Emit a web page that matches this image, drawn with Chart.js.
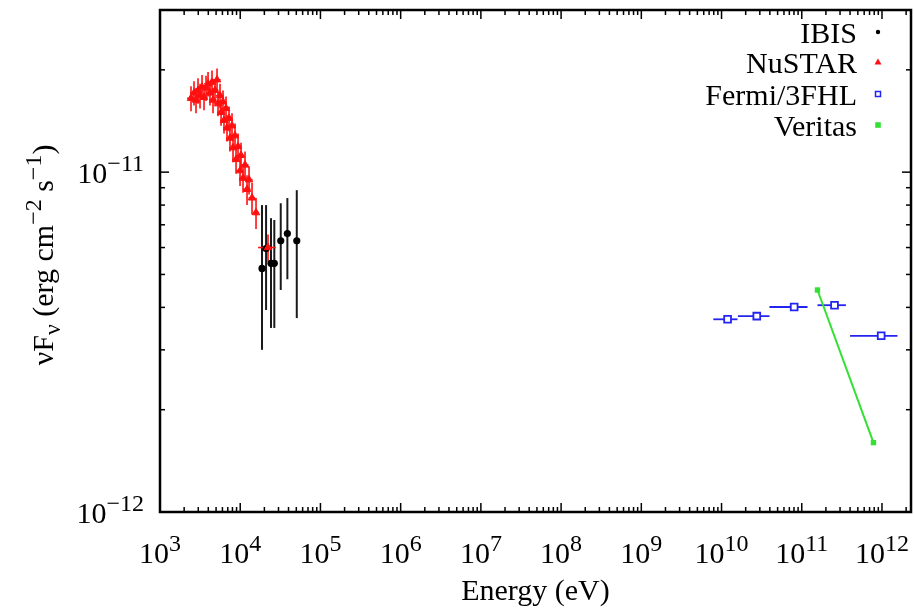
<!DOCTYPE html>
<html>
<head>
<meta charset="utf-8">
<script src="https://cdn.jsdelivr.net/npm/chart.js@4.4.0/dist/chart.umd.min.js"></script>
<style>
  html, body { margin: 0; padding: 0; background: #fff; }
</style>
</head>
<body>
<canvas id="sed" width="914" height="608"></canvas>
<script>
// axis ranges and tick decades
const xMin = 1e3, xMax = 2.3e12;
const yMin = 1e-12, yMax = 3e-11;
const xDecades = [3, 4, 5, 6, 7, 8, 9, 10, 11, 12];
const yDecades = [-12, -11];

// NuSTAR (eV, erg cm^-2 s^-1)
const nustarE = [2435, 2654, 2811, 2978, 3155, 3342, 3539, 3749, 3971, 4200, 4450, 4580, 4850, 5140, 5290, 5600, 5770, 6100, 6280,
                 6650, 6840, 7250, 7460, 7900, 8130, 8610, 8870, 9390, 9950, 10230, 10840, 11480, 12160, 12880, 14030, 15740, 22200];
const nustarEerr = [250, 280, 300, 320, 340, 360, 380, 400, 420, 450, 470, 490, 520, 550, 560, 600, 610, 650, 670,
                    710, 730, 770, 790, 840, 870, 920, 940, 1000, 1060, 1090, 1150, 1220, 1300, 1370, 1300, 1400, 5500];
const nustarF = [1.65e-11, 1.71e-11, 1.63e-11, 1.74e-11, 1.68e-11, 1.78e-11, 1.66e-11, 1.77e-11, 1.82e-11, 1.71e-11, 1.84e-11, 1.63e-11,
                 1.74e-11, 1.87e-11, 1.59e-11, 1.68e-11, 1.50e-11, 1.61e-11, 1.42e-11, 1.54e-11, 1.35e-11, 1.44e-11, 1.26e-11,
                 1.37e-11, 1.18e-11, 1.28e-11, 1.09e-11, 1.19e-11, 1.01e-11, 1.12e-11, 9.6e-12, 1.05e-11, 8.9e-12, 9.5e-12,
                 8.4e-12, 7.6e-12, 6.0e-12];
const nustarFerr = [1.4e-12, 1.4e-12, 1.4e-12, 1.5e-12, 1.4e-12, 1.5e-12, 1.4e-12, 1.5e-12, 1.5e-12, 1.4e-12, 1.5e-12, 1.4e-12,
                    1.4e-12, 1.5e-12, 1.3e-12, 1.4e-12, 1.3e-12, 1.3e-12, 1.2e-12, 1.3e-12, 1.2e-12, 1.2e-12, 1.1e-12,
                    1.2e-12, 1.1e-12, 1.1e-12, 1.0e-12, 1.1e-12, 1.0e-12, 1.0e-12, 0.9e-12, 1.0e-12, 0.9e-12, 0.9e-12,
                    0.9e-12, 0.8e-12, 0.55e-12];

// INTEGRAL/IBIS
const ibisE = [18700, 21000, 24200, 26600, 32000, 38700, 50700];
const ibisF = [5.21e-12, 5.96e-12, 5.39e-12, 5.39e-12, 6.28e-12, 6.60e-12, 6.28e-12];
const ibisFlo = [3.0e-12, 3.93e-12, 3.48e-12, 3.48e-12, 4.5e-12, 4.84e-12, 3.72e-12];
const ibisFhi = [8.0e-12, 8.0e-12, 7.32e-12, 7.23e-12, 8.1e-12, 8.39e-12, 8.85e-12];

// Fermi/3FHL
const fermiE = [1.19e10, 2.75e10, 8.04e10, 2.56e11, 9.77e11];
const fermiElo = [7.9e9, 1.6e10, 3.96e10, 1.57e11, 4.0e11];
const fermiEhi = [1.58e10, 3.96e10, 1.18e11, 3.55e11, 1.56e12];
const fermiF = [3.69e-12, 3.77e-12, 4.01e-12, 4.06e-12, 3.30e-12];

// Veritas
const veritasE = [1.57e11, 7.83e11];
const veritasF = [4.50e-12, 1.60e-12];

const legendNames = ["IBIS", "NuSTAR", "Fermi/3FHL", "Veritas"];

const RED = "#ff1010", BLUE = "#2424f0", GREEN = "#33e033", BLACK = "#000";
const FONT = '"Liberation Serif", "Times New Roman", serif';
const FS = 30;

const pts = (xs, ys) => xs.map((v, i) => ({ x: v, y: ys[i] }));

function drawRich(ctx, parts, x, y, align) {
  let w = 0;
  parts.forEach(p => {
    ctx.font = (p.s ? FS * 0.8 : FS) + "px " + FONT;
    w += ctx.measureText(p.t).width;
  });
  let cx = align === "right" ? x - w : align === "center" ? x - w / 2 : x;
  ctx.textAlign = "left";
  ctx.textBaseline = "alphabetic";
  parts.forEach(p => {
    ctx.font = (p.s ? FS * 0.8 : FS) + "px " + FONT;
    const dy = p.s === "sup" ? -FS * 0.4 : p.s === "sub" ? FS * 0.22 : 0;
    ctx.fillText(p.t, cx, y + dy);
    cx += ctx.measureText(p.t).width;
  });
}

function line(ctx, x1, y1, x2, y2) {
  ctx.beginPath(); ctx.moveTo(x1, y1); ctx.lineTo(x2, y2); ctx.stroke();
}

const errorBars = {
  id: "errorBars",
  beforeDatasetsDraw(chart) {
    const { ctx, chartArea: a, scales: { x, y } } = chart;
    ctx.save();
    ctx.beginPath(); ctx.rect(a.left, a.top, a.right - a.left, a.bottom - a.top); ctx.clip();

    ctx.strokeStyle = "#1a1a1a"; ctx.lineWidth = 2;
    ibisE.forEach((e, i) => {
      const px = x.getPixelForValue(e);
      line(ctx, px, y.getPixelForValue(ibisFlo[i]), px, y.getPixelForValue(ibisFhi[i]));
    });

    ctx.strokeStyle = RED; ctx.lineWidth = 1.6;
    nustarE.forEach((e, i) => {
      const px = x.getPixelForValue(e), py = y.getPixelForValue(nustarF[i]);
      line(ctx, px, y.getPixelForValue(nustarF[i] - nustarFerr[i]), px, y.getPixelForValue(nustarF[i] + nustarFerr[i]));
      line(ctx, x.getPixelForValue(e - nustarEerr[i]), py, x.getPixelForValue(e + nustarEerr[i]), py);
    });

    ctx.strokeStyle = BLUE; ctx.lineWidth = 1.8;
    fermiE.forEach((e, i) => {
      const py = y.getPixelForValue(fermiF[i]);
      line(ctx, x.getPixelForValue(fermiElo[i]), py, x.getPixelForValue(fermiEhi[i]), py);
    });
    ctx.restore();
  }
};

const frame = {
  id: "frame",
  afterDraw(chart) {
    const { ctx, chartArea: a, scales: { x, y } } = chart;
    ctx.save();
    ctx.strokeStyle = BLACK;
    ctx.fillStyle = BLACK;

    // ticks on all four sides, pointing inward
    ctx.lineWidth = 1.5;
    xDecades.forEach(d => {
      for (let m = 1; m <= 9; m++) {
        const v = m * Math.pow(10, d);
        if (v < xMin * 0.999 || v > xMax * 1.001) continue;
        const px = x.getPixelForValue(v), len = m === 1 ? 9 : 5;
        line(ctx, px, a.bottom, px, a.bottom - len);
        line(ctx, px, a.top, px, a.top + len);
      }
    });
    yDecades.forEach(d => {
      for (let m = 1; m <= 9; m++) {
        const v = m * Math.pow(10, d);
        if (v < yMin * 0.999 || v > yMax * 1.001) continue;
        const py = y.getPixelForValue(v), len = m === 1 ? 9 : 5;
        line(ctx, a.left, py, a.left + len, py);
        line(ctx, a.right, py, a.right - len, py);
      }
    });

    // box
    ctx.lineWidth = 2.5;
    ctx.strokeRect(a.left, a.top, a.right - a.left, a.bottom - a.top);

    // tick labels
    xDecades.forEach(d => {
      drawRich(ctx, [{ t: "10" }, { t: String(d), s: "sup" }], x.getPixelForValue(Math.pow(10, d)), 563, "center");
    });
    yDecades.forEach(d => {
      drawRich(ctx, [{ t: "10" }, { t: "\u2212" + String(-d), s: "sup" }], a.left - 16, y.getPixelForValue(Math.pow(10, d)) + 11, "right");
    });

    // axis titles
    drawRich(ctx, [{ t: "Energy (eV)" }], (a.left + a.right) / 2, 600, "center");
    ctx.save();
    ctx.translate(53, (a.top + a.bottom) / 2 - 6);
    ctx.rotate(-Math.PI / 2);
    drawRich(ctx, [{ t: "\u03bdF" }, { t: "\u03bd", s: "sub" }, { t: " (erg cm" }, { t: "\u22122", s: "sup" },
                   { t: " s" }, { t: "\u22121", s: "sup" }, { t: ")" }], 0, 0, "center");
    ctx.restore();

    // legend
    const rows = [43, 73, 105, 136];
    const mx = 878;
    legendNames.forEach((name, i) => {
      ctx.fillStyle = BLACK;
      drawRich(ctx, [{ t: name }], 857, rows[i], "right");
      const my = rows[i] - 11;
      if (i === 0) {
        ctx.beginPath(); ctx.arc(mx, my, 2.2, 0, Math.PI * 2); ctx.fill();
      } else if (i === 1) {
        ctx.fillStyle = RED;
        ctx.beginPath(); ctx.moveTo(mx, my - 3.5); ctx.lineTo(mx + 3.5, my + 2.5); ctx.lineTo(mx - 3.5, my + 2.5); ctx.closePath(); ctx.fill();
      } else if (i === 2) {
        ctx.strokeStyle = BLUE; ctx.lineWidth = 1.5;
        ctx.strokeRect(mx - 2.5, my - 2.5, 5, 5);
      } else {
        ctx.fillStyle = GREEN;
        ctx.fillRect(mx - 2.8, my - 2.8, 5.6, 5.6);
      }
    });
    ctx.restore();
  }
};

new Chart(document.getElementById("sed"), {
  type: "scatter",
  data: {
    datasets: [
      { label: "Veritas", data: pts(veritasE, veritasF), showLine: true, borderColor: GREEN, borderWidth: 2,
        pointStyle: "rect", pointRadius: 3.8, backgroundColor: GREEN, pointBorderColor: GREEN, pointBorderWidth: 0, order: 0 },
      { label: "Fermi/3FHL", data: pts(fermiE, fermiF), pointStyle: "rect", pointRadius: 4.8,
        backgroundColor: "#fff", borderColor: BLUE, borderWidth: 1.8, order: 1 },
      { label: "NuSTAR", data: pts(nustarE, nustarF), pointStyle: "triangle", pointRadius: 4.3,
        backgroundColor: RED, borderColor: RED, borderWidth: 1, order: 2 },
      { label: "IBIS", data: pts(ibisE, ibisF), pointStyle: "circle", pointRadius: 3.6,
        backgroundColor: BLACK, borderColor: BLACK, borderWidth: 0, order: 3 },
    ],
  },
  options: {
    responsive: false,
    animation: false,
    layout: { autoPadding: false, padding: { top: 10, right: 3, left: 0, bottom: 0 } },
    plugins: { legend: { display: false }, tooltip: { enabled: false } },
    scales: {
      x: {
        type: "logarithmic", min: xMin, max: xMax,
        ticks: { display: false }, grid: { display: false }, border: { display: false },
        afterFit: s => { s.height = 96; },
      },
      y: {
        type: "logarithmic", min: yMin, max: yMax,
        ticks: { display: false }, grid: { display: false }, border: { display: false },
        afterFit: s => { s.width = 160; },
      },
    },
  },
  plugins: [errorBars, frame],
});
</script>
</body>
</html>
